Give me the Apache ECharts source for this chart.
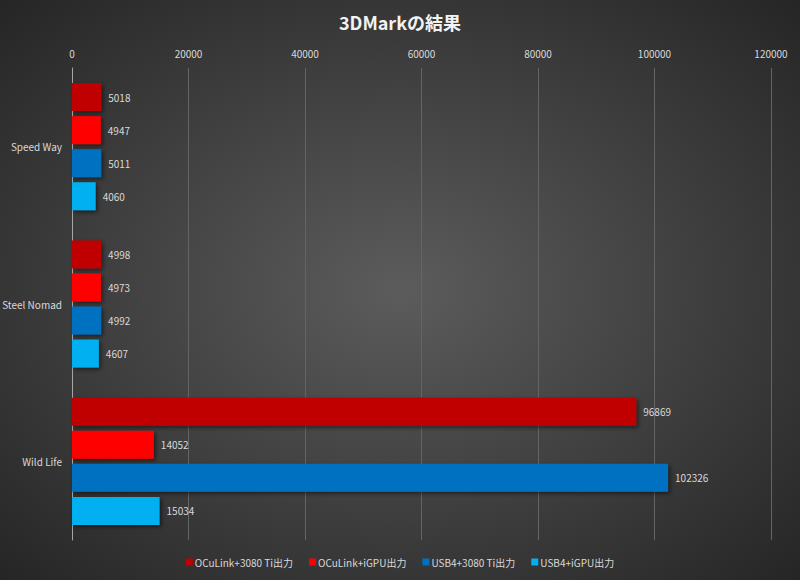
<!DOCTYPE html>
<html>
<head>
<meta charset="utf-8">
<script src="https://cdn.jsdelivr.net/npm/echarts@6/dist/echarts.min.js"></script>
<style>
  html, body { margin: 0; padding: 0; background: #333; }
  #chart { width: 800px; height: 580px; }
</style>
</head>
<body>
<div id="chart"></div>
<script>
(function() {
  var categories = ['Speed Way', 'Steel Nomad', 'Wild Life'];
  var seriesNames = ['OCuLink+3080 Ti出力', 'OCuLink+iGPU出力', 'USB4+3080 Ti出力', 'USB4+iGPU出力'];
  var ocuLink3080 = [5018, 4998, 96869];
  var ocuLinkIgpu = [4947, 4973, 14052];
  var usb43080 = [5011, 4992, 102326];
  var usb4Igpu = [4060, 4607, 15034];
  var colors = ['#C00000', '#FF0000', '#0070C0', '#00B0F0'];

  var font = '"Noto Sans CJK JP", "Noto Sans", sans-serif';
  var values = [ocuLink3080, ocuLinkIgpu, usb43080, usb4Igpu];

  var chart = echarts.init(document.getElementById('chart'), null, { renderer: 'svg' });
  chart.setOption({
    animation: false,
    backgroundColor: {
      type: 'radial', x: 0.5, y: 0.5, r: 0.75,
      colorStops: [
        { offset: 0, color: '#5c5c5c' },
        { offset: 1, color: '#222222' }
      ]
    },
    color: colors,
    textStyle: { fontFamily: font },
    title: {
      text: '3DMarkの結果',
      left: 'center',
      top: 8,
      textStyle: { color: '#f2f2f2', fontSize: 18, fontWeight: 'bold', fontFamily: font }
    },
    legend: {
      bottom: 8,
      left: 'center',
      itemWidth: 7,
      itemHeight: 7,
      itemGap: 16,
      icon: 'rect',
      textStyle: { color: '#d9d9d9', fontSize: 10, fontFamily: font, padding: [0, 0, 0, -3] },
      data: seriesNames
    },
    grid: { left: 72, right: 29, top: 68, bottom: 40, outerBoundsMode: 'none' },
    xAxis: {
      type: 'value',
      position: 'top',
      min: 0, max: 120000, interval: 20000,
      axisLine: { show: false },
      axisTick: { show: false },
      axisLabel: { color: '#d9d9d9', fontSize: 10, margin: 10, formatter: function(v) { return String(v); } },
      splitLine: { lineStyle: { color: '#646464', width: 1 } }
    },
    yAxis: {
      type: 'category',
      inverse: true,
      data: categories,
      axisLine: { lineStyle: { color: '#a6a6a6', width: 1 } },
      axisTick: { show: false },
      axisLabel: { color: '#d9d9d9', fontSize: 10, margin: 10 }
    },
    series: seriesNames.map(function(name, i) {
      return {
        name: name,
        type: 'bar',
        data: values[i],
        barWidth: 28,
        barGap: '18%',
        itemStyle: {
          color: colors[i],
          shadowColor: 'rgba(0,0,0,0.5)',
          shadowBlur: 4,
          shadowOffsetX: 2,
          shadowOffsetY: 2
        },
        label: {
          show: true,
          position: 'right',
          distance: 7,
          color: '#d9d9d9',
          fontSize: 10
        },
        emphasis: { disabled: true }
      };
    })
  });
  window.addEventListener('resize', function() { chart.resize(); });
})();
</script>
</body>
</html>
